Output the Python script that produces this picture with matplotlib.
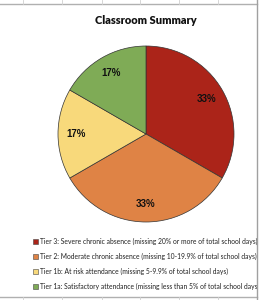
import matplotlib
matplotlib.use("Agg")
import matplotlib.pyplot as plt
from matplotlib.patches import Rectangle

# data
tiers = ["Tier 3: Severe chronic absence (missing 20% or more of total school days)",
         "Tier 2: Moderate chronic absence (missing 10-19.9% of total school days)",
         "Tier 1b: At risk attendance (missing 5-9.9% of total school days)",
         "Tier 1a: Satisfactory attendance (missing less than 5% of total school days)"]
counts = [2, 2, 1, 1]
colors = ["#AB2419", "#DF8345", "#F8D97B", "#7FAB56"]

W, H = 267, 300
fig = plt.figure(figsize=(W / 100, H / 100), dpi=100)
fig.patch.set_facecolor("white")

# background / sheet area in pixel coords
bg = fig.add_axes([0, 0, 257 / W, 1])
bg.set_xlim(0, 257)
bg.set_ylim(H, 0)
bg.axis("off")

# spreadsheet grid remnants
bg.plot([0, 257], [4, 4], color="#b0b0b0", lw=1.0, clip_on=False)
bg.plot([0, 257], [297, 297], color="#b0b0b0", lw=1.0, clip_on=False)
for gx in [23, 62, 102, 140, 179, 218]:
    bg.plot([gx, gx], [0, 4], color="#d0d0d0", lw=0.6)
    bg.plot([gx, gx], [297, 300], color="#d0d0d0", lw=0.6)
fig.add_artist(plt.Line2D([257 / W, 257 / W], [0, 1], color="#a0a0a0", lw=1.0))

bg.text(146, 20, "Classroom Summary", ha="center", va="center",
        fontsize=7.9, fontweight="heavy", family="Lato", color="#111111")

# pie
r = 88
cx, cy = 146, 134
ax = fig.add_axes([(cx - r) / W, (H - cy - r) / H, 2 * r / W, 2 * r / H])
wedges, texts, autotexts = ax.pie(counts, colors=colors, startangle=90, counterclock=False,
                                  autopct="%1.0f%%", pctdistance=0.8,
                                  wedgeprops=dict(edgecolor="#333333", linewidth=0.5))
for t in autotexts:
    t.set_fontsize(7)
    t.set_fontweight("bold")
    t.set_family("Liberation Sans")
    t.set_color("#111111")
ax.set_xlim(-1, 1)
ax.set_ylim(-1, 1)
ax.set_aspect("equal")
ax.axis("off")

# legend drawn by hand so it clips at the sheet edge
ly = [241, 256, 271, 286]
for lab, c, y in zip(tiers, colors, ly):
    bg.add_patch(Rectangle((33, y - 2.5), 5, 5, facecolor=c, edgecolor="#444444", lw=0.4))
    bg.text(39.5, y, lab, ha="left", va="center", fontsize=4.85, family="Lato",
            color="#222222", clip_on=True)

fig.savefig("out.png", dpi=100)
